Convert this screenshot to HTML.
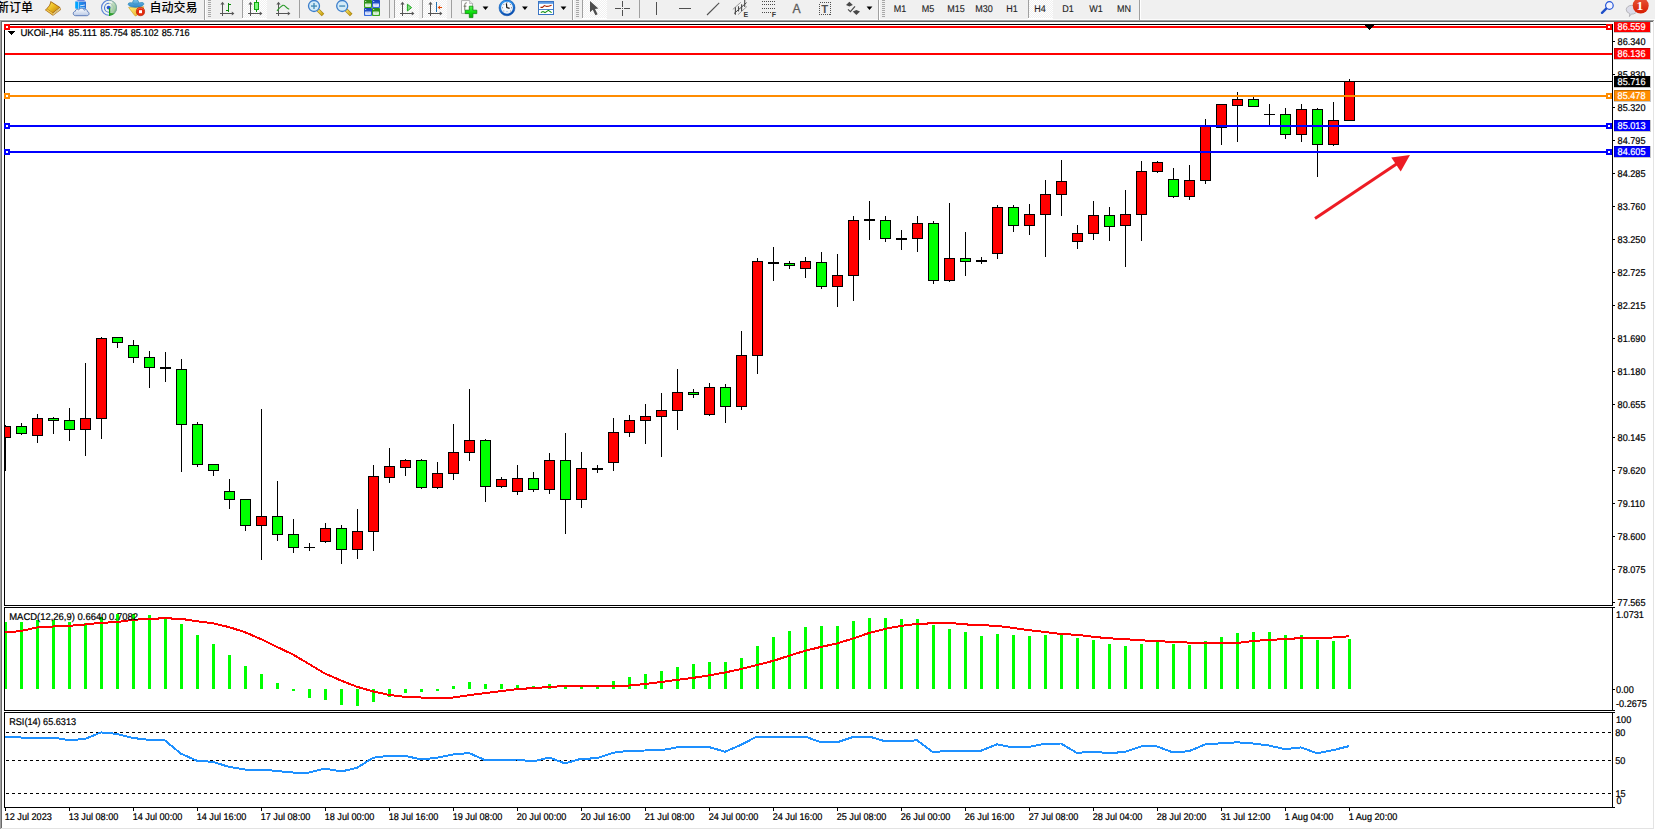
<!DOCTYPE html>
<html lang="zh-CN"><head><meta charset="utf-8"><title>UKOil H4</title>
<style>
html,body{margin:0;padding:0;}
body{width:1655px;height:830px;overflow:hidden;background:#fff;position:relative;font-family:"Liberation Sans","Noto Sans CJK SC",sans-serif;}
#chart{position:absolute;left:0;top:0;}
#frameT{position:absolute;left:0;top:20px;width:1654px;height:1px;background:#a0a0a0;}
#frameT2{position:absolute;left:1px;top:21px;width:1652px;height:1px;background:#696969;}
#frameL{position:absolute;left:0;top:20px;width:1px;height:809px;background:#a0a0a0;}
#frameL2{position:absolute;left:1px;top:21px;width:1px;height:807px;background:#696969;}
#frameR{position:absolute;left:1653px;top:21px;width:1px;height:808px;background:#e3e3e3;}
#frameB{position:absolute;left:1px;top:828px;width:1653px;height:1px;background:#e3e3e3;}
#tb{position:absolute;left:0;top:0;width:1655px;height:20px;overflow:hidden;}
#tbs{display:block;}

</style></head><body>
<svg id="chart" width="1655" height="830" viewBox="0 0 1655 830" shape-rendering="crispEdges">
<defs><clipPath id="cm"><rect x="5" y="25" width="1607" height="580"/></clipPath><clipPath id="c2"><rect x="5" y="608" width="1607" height="102"/></clipPath><clipPath id="c3"><rect x="5" y="713" width="1607" height="94"/></clipPath></defs>
<g fill="#000">
<rect x="4" y="24" width="1" height="784"/>
<rect x="4" y="24" width="1609" height="1"/>
<rect x="1612" y="24" width="1" height="784"/>
<rect x="4" y="605" width="1609" height="1"/>
<rect x="4" y="607" width="1609" height="1"/>
<rect x="4" y="710" width="1609" height="1"/>
<rect x="4" y="712" width="1609" height="1"/>
<rect x="4" y="807" width="1609" height="1"/>
</g>
<rect x="4" y="606" width="1609" height="1" fill="#fff"/><rect x="4" y="711" width="1609" height="1" fill="#fff"/>
<g clip-path="url(#cm)">
<rect x="5" y="425" width="1" height="46" fill="#000"/>
<rect x="0" y="426" width="11" height="12" fill="#000"/>
<rect x="1" y="427" width="9" height="10" fill="#f00"/>
<rect x="21" y="423" width="1" height="12" fill="#000"/>
<rect x="16" y="426" width="11" height="8" fill="#000"/>
<rect x="17" y="427" width="9" height="6" fill="#0f0"/>
<rect x="37" y="414" width="1" height="29" fill="#000"/>
<rect x="32" y="418" width="11" height="18" fill="#000"/>
<rect x="33" y="419" width="9" height="16" fill="#f00"/>
<rect x="53" y="417" width="1" height="17" fill="#000"/>
<rect x="48" y="418" width="11" height="3" fill="#000"/>
<rect x="49" y="419" width="9" height="1" fill="#0f0"/>
<rect x="69" y="408" width="1" height="33" fill="#000"/>
<rect x="64" y="420" width="11" height="10" fill="#000"/>
<rect x="65" y="421" width="9" height="8" fill="#0f0"/>
<rect x="85" y="363" width="1" height="93" fill="#000"/>
<rect x="80" y="418" width="11" height="12" fill="#000"/>
<rect x="81" y="419" width="9" height="10" fill="#f00"/>
<rect x="101" y="337" width="1" height="102" fill="#000"/>
<rect x="96" y="338" width="11" height="81" fill="#000"/>
<rect x="97" y="339" width="9" height="79" fill="#f00"/>
<rect x="117" y="337" width="1" height="11" fill="#000"/>
<rect x="112" y="337" width="11" height="6" fill="#000"/>
<rect x="113" y="338" width="9" height="4" fill="#0f0"/>
<rect x="133" y="340" width="1" height="23" fill="#000"/>
<rect x="128" y="345" width="11" height="13" fill="#000"/>
<rect x="129" y="346" width="9" height="11" fill="#0f0"/>
<rect x="149" y="351" width="1" height="37" fill="#000"/>
<rect x="144" y="357" width="11" height="11" fill="#000"/>
<rect x="145" y="358" width="9" height="9" fill="#0f0"/>
<rect x="165" y="352" width="1" height="30" fill="#000"/>
<rect x="160" y="367" width="11" height="2" fill="#000"/>
<rect x="181" y="359" width="1" height="113" fill="#000"/>
<rect x="176" y="369" width="11" height="56" fill="#000"/>
<rect x="177" y="370" width="9" height="54" fill="#0f0"/>
<rect x="197" y="422" width="1" height="45" fill="#000"/>
<rect x="192" y="424" width="11" height="41" fill="#000"/>
<rect x="193" y="425" width="9" height="39" fill="#0f0"/>
<rect x="213" y="464" width="1" height="12" fill="#000"/>
<rect x="208" y="464" width="11" height="7" fill="#000"/>
<rect x="209" y="465" width="9" height="5" fill="#0f0"/>
<rect x="229" y="479" width="1" height="30" fill="#000"/>
<rect x="224" y="491" width="11" height="9" fill="#000"/>
<rect x="225" y="492" width="9" height="7" fill="#0f0"/>
<rect x="245" y="499" width="1" height="32" fill="#000"/>
<rect x="240" y="499" width="11" height="27" fill="#000"/>
<rect x="241" y="500" width="9" height="25" fill="#0f0"/>
<rect x="261" y="409" width="1" height="151" fill="#000"/>
<rect x="256" y="516" width="11" height="10" fill="#000"/>
<rect x="257" y="517" width="9" height="8" fill="#f00"/>
<rect x="277" y="481" width="1" height="60" fill="#000"/>
<rect x="272" y="516" width="11" height="19" fill="#000"/>
<rect x="273" y="517" width="9" height="17" fill="#0f0"/>
<rect x="293" y="519" width="1" height="34" fill="#000"/>
<rect x="288" y="534" width="11" height="14" fill="#000"/>
<rect x="289" y="535" width="9" height="12" fill="#0f0"/>
<rect x="309" y="543" width="1" height="8" fill="#000"/>
<rect x="304" y="547" width="11" height="1" fill="#000"/>
<rect x="325" y="523" width="1" height="20" fill="#000"/>
<rect x="320" y="528" width="11" height="14" fill="#000"/>
<rect x="321" y="529" width="9" height="12" fill="#f00"/>
<rect x="341" y="525" width="1" height="39" fill="#000"/>
<rect x="336" y="528" width="11" height="22" fill="#000"/>
<rect x="337" y="529" width="9" height="20" fill="#0f0"/>
<rect x="357" y="509" width="1" height="50" fill="#000"/>
<rect x="352" y="531" width="11" height="19" fill="#000"/>
<rect x="353" y="532" width="9" height="17" fill="#f00"/>
<rect x="373" y="465" width="1" height="86" fill="#000"/>
<rect x="368" y="476" width="11" height="56" fill="#000"/>
<rect x="369" y="477" width="9" height="54" fill="#f00"/>
<rect x="389" y="448" width="1" height="35" fill="#000"/>
<rect x="384" y="466" width="11" height="12" fill="#000"/>
<rect x="385" y="467" width="9" height="10" fill="#f00"/>
<rect x="405" y="459" width="1" height="17" fill="#000"/>
<rect x="400" y="460" width="11" height="8" fill="#000"/>
<rect x="401" y="461" width="9" height="6" fill="#f00"/>
<rect x="421" y="459" width="1" height="30" fill="#000"/>
<rect x="416" y="460" width="11" height="28" fill="#000"/>
<rect x="417" y="461" width="9" height="26" fill="#0f0"/>
<rect x="437" y="462" width="1" height="27" fill="#000"/>
<rect x="432" y="473" width="11" height="15" fill="#000"/>
<rect x="433" y="474" width="9" height="13" fill="#f00"/>
<rect x="453" y="424" width="1" height="56" fill="#000"/>
<rect x="448" y="452" width="11" height="22" fill="#000"/>
<rect x="449" y="453" width="9" height="20" fill="#f00"/>
<rect x="469" y="389" width="1" height="72" fill="#000"/>
<rect x="464" y="440" width="11" height="13" fill="#000"/>
<rect x="465" y="441" width="9" height="11" fill="#f00"/>
<rect x="485" y="439" width="1" height="63" fill="#000"/>
<rect x="480" y="440" width="11" height="47" fill="#000"/>
<rect x="481" y="441" width="9" height="45" fill="#0f0"/>
<rect x="501" y="477" width="1" height="11" fill="#000"/>
<rect x="496" y="479" width="11" height="8" fill="#000"/>
<rect x="497" y="480" width="9" height="6" fill="#f00"/>
<rect x="517" y="465" width="1" height="30" fill="#000"/>
<rect x="512" y="478" width="11" height="14" fill="#000"/>
<rect x="513" y="479" width="9" height="12" fill="#f00"/>
<rect x="533" y="472" width="1" height="20" fill="#000"/>
<rect x="528" y="478" width="11" height="12" fill="#000"/>
<rect x="529" y="479" width="9" height="10" fill="#0f0"/>
<rect x="549" y="453" width="1" height="41" fill="#000"/>
<rect x="544" y="460" width="11" height="30" fill="#000"/>
<rect x="545" y="461" width="9" height="28" fill="#f00"/>
<rect x="565" y="433" width="1" height="101" fill="#000"/>
<rect x="560" y="460" width="11" height="40" fill="#000"/>
<rect x="561" y="461" width="9" height="38" fill="#0f0"/>
<rect x="581" y="452" width="1" height="56" fill="#000"/>
<rect x="576" y="468" width="11" height="32" fill="#000"/>
<rect x="577" y="469" width="9" height="30" fill="#f00"/>
<rect x="597" y="465" width="1" height="8" fill="#000"/>
<rect x="592" y="468" width="11" height="2" fill="#000"/>
<rect x="613" y="418" width="1" height="53" fill="#000"/>
<rect x="608" y="432" width="11" height="31" fill="#000"/>
<rect x="609" y="433" width="9" height="29" fill="#f00"/>
<rect x="629" y="415" width="1" height="22" fill="#000"/>
<rect x="624" y="420" width="11" height="13" fill="#000"/>
<rect x="625" y="421" width="9" height="11" fill="#f00"/>
<rect x="645" y="404" width="1" height="40" fill="#000"/>
<rect x="640" y="416" width="11" height="5" fill="#000"/>
<rect x="641" y="417" width="9" height="3" fill="#f00"/>
<rect x="661" y="393" width="1" height="64" fill="#000"/>
<rect x="656" y="410" width="11" height="7" fill="#000"/>
<rect x="657" y="411" width="9" height="5" fill="#f00"/>
<rect x="677" y="369" width="1" height="61" fill="#000"/>
<rect x="672" y="392" width="11" height="19" fill="#000"/>
<rect x="673" y="393" width="9" height="17" fill="#f00"/>
<rect x="693" y="389" width="1" height="9" fill="#000"/>
<rect x="688" y="392" width="11" height="3" fill="#000"/>
<rect x="689" y="393" width="9" height="1" fill="#0f0"/>
<rect x="709" y="383" width="1" height="33" fill="#000"/>
<rect x="704" y="387" width="11" height="28" fill="#000"/>
<rect x="705" y="388" width="9" height="26" fill="#f00"/>
<rect x="725" y="384" width="1" height="39" fill="#000"/>
<rect x="720" y="387" width="11" height="20" fill="#000"/>
<rect x="721" y="388" width="9" height="18" fill="#0f0"/>
<rect x="741" y="331" width="1" height="79" fill="#000"/>
<rect x="736" y="355" width="11" height="52" fill="#000"/>
<rect x="737" y="356" width="9" height="50" fill="#f00"/>
<rect x="757" y="258" width="1" height="116" fill="#000"/>
<rect x="752" y="261" width="11" height="95" fill="#000"/>
<rect x="753" y="262" width="9" height="93" fill="#f00"/>
<rect x="773" y="247" width="1" height="34" fill="#000"/>
<rect x="768" y="262" width="11" height="2" fill="#000"/>
<rect x="789" y="261" width="1" height="8" fill="#000"/>
<rect x="784" y="263" width="11" height="3" fill="#000"/>
<rect x="785" y="264" width="9" height="1" fill="#0f0"/>
<rect x="805" y="257" width="1" height="21" fill="#000"/>
<rect x="800" y="261" width="11" height="8" fill="#000"/>
<rect x="801" y="262" width="9" height="6" fill="#f00"/>
<rect x="821" y="252" width="1" height="37" fill="#000"/>
<rect x="816" y="262" width="11" height="25" fill="#000"/>
<rect x="817" y="263" width="9" height="23" fill="#0f0"/>
<rect x="837" y="254" width="1" height="53" fill="#000"/>
<rect x="832" y="275" width="11" height="12" fill="#000"/>
<rect x="833" y="276" width="9" height="10" fill="#f00"/>
<rect x="853" y="216" width="1" height="85" fill="#000"/>
<rect x="848" y="220" width="11" height="56" fill="#000"/>
<rect x="849" y="221" width="9" height="54" fill="#f00"/>
<rect x="869" y="201" width="1" height="39" fill="#000"/>
<rect x="864" y="219" width="11" height="2" fill="#000"/>
<rect x="885" y="216" width="1" height="26" fill="#000"/>
<rect x="880" y="220" width="11" height="19" fill="#000"/>
<rect x="881" y="221" width="9" height="17" fill="#0f0"/>
<rect x="901" y="230" width="1" height="20" fill="#000"/>
<rect x="896" y="238" width="11" height="2" fill="#000"/>
<rect x="917" y="216" width="1" height="36" fill="#000"/>
<rect x="912" y="223" width="11" height="16" fill="#000"/>
<rect x="913" y="224" width="9" height="14" fill="#f00"/>
<rect x="933" y="221" width="1" height="63" fill="#000"/>
<rect x="928" y="223" width="11" height="58" fill="#000"/>
<rect x="929" y="224" width="9" height="56" fill="#0f0"/>
<rect x="949" y="203" width="1" height="79" fill="#000"/>
<rect x="944" y="258" width="11" height="23" fill="#000"/>
<rect x="945" y="259" width="9" height="21" fill="#f00"/>
<rect x="965" y="232" width="1" height="44" fill="#000"/>
<rect x="960" y="258" width="11" height="4" fill="#000"/>
<rect x="961" y="259" width="9" height="2" fill="#0f0"/>
<rect x="981" y="257" width="1" height="7" fill="#000"/>
<rect x="976" y="260" width="11" height="2" fill="#000"/>
<rect x="997" y="205" width="1" height="54" fill="#000"/>
<rect x="992" y="207" width="11" height="47" fill="#000"/>
<rect x="993" y="208" width="9" height="45" fill="#f00"/>
<rect x="1013" y="205" width="1" height="27" fill="#000"/>
<rect x="1008" y="207" width="11" height="19" fill="#000"/>
<rect x="1009" y="208" width="9" height="17" fill="#0f0"/>
<rect x="1029" y="204" width="1" height="31" fill="#000"/>
<rect x="1024" y="214" width="11" height="12" fill="#000"/>
<rect x="1025" y="215" width="9" height="10" fill="#f00"/>
<rect x="1045" y="180" width="1" height="77" fill="#000"/>
<rect x="1040" y="194" width="11" height="21" fill="#000"/>
<rect x="1041" y="195" width="9" height="19" fill="#f00"/>
<rect x="1061" y="160" width="1" height="56" fill="#000"/>
<rect x="1056" y="181" width="11" height="14" fill="#000"/>
<rect x="1057" y="182" width="9" height="12" fill="#f00"/>
<rect x="1077" y="225" width="1" height="24" fill="#000"/>
<rect x="1072" y="233" width="11" height="9" fill="#000"/>
<rect x="1073" y="234" width="9" height="7" fill="#f00"/>
<rect x="1093" y="201" width="1" height="39" fill="#000"/>
<rect x="1088" y="215" width="11" height="19" fill="#000"/>
<rect x="1089" y="216" width="9" height="17" fill="#f00"/>
<rect x="1109" y="207" width="1" height="34" fill="#000"/>
<rect x="1104" y="215" width="11" height="12" fill="#000"/>
<rect x="1105" y="216" width="9" height="10" fill="#0f0"/>
<rect x="1125" y="190" width="1" height="77" fill="#000"/>
<rect x="1120" y="214" width="11" height="12" fill="#000"/>
<rect x="1121" y="215" width="9" height="10" fill="#f00"/>
<rect x="1141" y="161" width="1" height="80" fill="#000"/>
<rect x="1136" y="171" width="11" height="44" fill="#000"/>
<rect x="1137" y="172" width="9" height="42" fill="#f00"/>
<rect x="1157" y="161" width="1" height="12" fill="#000"/>
<rect x="1152" y="162" width="11" height="10" fill="#000"/>
<rect x="1153" y="163" width="9" height="8" fill="#f00"/>
<rect x="1173" y="168" width="1" height="30" fill="#000"/>
<rect x="1168" y="179" width="11" height="18" fill="#000"/>
<rect x="1169" y="180" width="9" height="16" fill="#0f0"/>
<rect x="1189" y="165" width="1" height="35" fill="#000"/>
<rect x="1184" y="180" width="11" height="17" fill="#000"/>
<rect x="1185" y="181" width="9" height="15" fill="#f00"/>
<rect x="1205" y="119" width="1" height="65" fill="#000"/>
<rect x="1200" y="126" width="11" height="55" fill="#000"/>
<rect x="1201" y="127" width="9" height="53" fill="#f00"/>
<rect x="1221" y="104" width="1" height="41" fill="#000"/>
<rect x="1216" y="104" width="11" height="24" fill="#000"/>
<rect x="1217" y="105" width="9" height="22" fill="#f00"/>
<rect x="1237" y="92" width="1" height="50" fill="#000"/>
<rect x="1232" y="99" width="11" height="7" fill="#000"/>
<rect x="1233" y="100" width="9" height="5" fill="#f00"/>
<rect x="1253" y="97" width="1" height="10" fill="#000"/>
<rect x="1248" y="99" width="11" height="8" fill="#000"/>
<rect x="1249" y="100" width="9" height="6" fill="#0f0"/>
<rect x="1269" y="104" width="1" height="22" fill="#000"/>
<rect x="1264" y="114" width="11" height="1" fill="#000"/>
<rect x="1285" y="108" width="1" height="31" fill="#000"/>
<rect x="1280" y="114" width="11" height="21" fill="#000"/>
<rect x="1281" y="115" width="9" height="19" fill="#0f0"/>
<rect x="1301" y="104" width="1" height="38" fill="#000"/>
<rect x="1296" y="109" width="11" height="26" fill="#000"/>
<rect x="1297" y="110" width="9" height="24" fill="#f00"/>
<rect x="1317" y="108" width="1" height="69" fill="#000"/>
<rect x="1312" y="109" width="11" height="36" fill="#000"/>
<rect x="1313" y="110" width="9" height="34" fill="#0f0"/>
<rect x="1333" y="102" width="1" height="44" fill="#000"/>
<rect x="1328" y="120" width="11" height="25" fill="#000"/>
<rect x="1329" y="121" width="9" height="23" fill="#f00"/>
<rect x="1349" y="79" width="1" height="42" fill="#000"/>
<rect x="1344" y="81" width="11" height="40" fill="#000"/>
<rect x="1345" y="82" width="9" height="38" fill="#f00"/>
</g>
<rect x="5" y="81" width="1607" height="1" fill="#000"/>
<rect x="5" y="26" width="1607" height="2" fill="#f00"/>
<rect x="4" y="24" width="6" height="6" fill="#f00"/><rect x="6" y="26" width="2" height="2" fill="#fff"/>
<rect x="1606" y="24" width="6" height="6" fill="#f00"/><rect x="1608" y="26" width="2" height="2" fill="#fff"/>
<rect x="5" y="53" width="1607" height="2" fill="#f00"/>
<rect x="5" y="95" width="1607" height="2" fill="#ff8c00"/>
<rect x="4" y="93" width="6" height="6" fill="#ff8c00"/><rect x="6" y="95" width="2" height="2" fill="#fff"/>
<rect x="1606" y="93" width="6" height="6" fill="#ff8c00"/><rect x="1608" y="95" width="2" height="2" fill="#fff"/>
<rect x="5" y="125" width="1607" height="2" fill="#00f"/>
<rect x="4" y="123" width="6" height="6" fill="#00f"/><rect x="6" y="125" width="2" height="2" fill="#fff"/>
<rect x="1606" y="123" width="6" height="6" fill="#00f"/><rect x="1608" y="125" width="2" height="2" fill="#fff"/>
<rect x="5" y="151" width="1607" height="2" fill="#00f"/>
<rect x="4" y="149" width="6" height="6" fill="#00f"/><rect x="6" y="151" width="2" height="2" fill="#fff"/>
<rect x="1606" y="149" width="6" height="6" fill="#00f"/><rect x="1608" y="151" width="2" height="2" fill="#fff"/>
<rect x="1365" y="25" width="9" height="1" fill="#000"/>
<rect x="1366" y="26" width="7" height="1" fill="#000"/>
<rect x="1367" y="27" width="5" height="1" fill="#000"/>
<rect x="1368" y="28" width="3" height="1" fill="#000"/>
<rect x="1369" y="29" width="1" height="1" fill="#000"/>
<rect x="8" y="31" width="7" height="1" fill="#000"/>
<rect x="9" y="32" width="5" height="1" fill="#000"/>
<rect x="10" y="33" width="3" height="1" fill="#000"/>
<rect x="11" y="34" width="1" height="1" fill="#000"/>
<g shape-rendering="auto"><line x1="1315" y1="218.5" x2="1398" y2="163" stroke="#ed1c24" stroke-width="3"/><polygon points="1410,155 1391.3,157.6 1400.7,171.5" fill="#ed1c24"/></g>
<g clip-path="url(#c2)">
<rect x="4" y="622" width="3" height="67" fill="#0f0"/>
<rect x="20" y="622" width="3" height="67" fill="#0f0"/>
<rect x="36" y="620" width="3" height="69" fill="#0f0"/>
<rect x="52" y="620" width="3" height="69" fill="#0f0"/>
<rect x="68" y="622" width="3" height="67" fill="#0f0"/>
<rect x="84" y="623" width="3" height="66" fill="#0f0"/>
<rect x="100" y="617" width="3" height="72" fill="#0f0"/>
<rect x="116" y="614" width="3" height="75" fill="#0f0"/>
<rect x="132" y="614" width="3" height="75" fill="#0f0"/>
<rect x="148" y="615" width="3" height="74" fill="#0f0"/>
<rect x="164" y="618" width="3" height="71" fill="#0f0"/>
<rect x="180" y="624" width="3" height="65" fill="#0f0"/>
<rect x="196" y="635" width="3" height="54" fill="#0f0"/>
<rect x="212" y="644" width="3" height="45" fill="#0f0"/>
<rect x="228" y="655" width="3" height="34" fill="#0f0"/>
<rect x="244" y="666" width="3" height="23" fill="#0f0"/>
<rect x="260" y="674" width="3" height="15" fill="#0f0"/>
<rect x="276" y="683" width="3" height="6" fill="#0f0"/>
<rect x="292" y="689" width="3" height="2" fill="#0f0"/>
<rect x="308" y="689" width="3" height="9" fill="#0f0"/>
<rect x="324" y="689" width="3" height="11" fill="#0f0"/>
<rect x="340" y="689" width="3" height="16" fill="#0f0"/>
<rect x="356" y="689" width="3" height="17" fill="#0f0"/>
<rect x="372" y="689" width="3" height="13" fill="#0f0"/>
<rect x="388" y="689" width="3" height="8" fill="#0f0"/>
<rect x="404" y="689" width="3" height="4" fill="#0f0"/>
<rect x="420" y="689" width="3" height="3" fill="#0f0"/>
<rect x="436" y="689" width="3" height="2" fill="#0f0"/>
<rect x="452" y="686" width="3" height="3" fill="#0f0"/>
<rect x="468" y="682" width="3" height="7" fill="#0f0"/>
<rect x="484" y="684" width="3" height="5" fill="#0f0"/>
<rect x="500" y="684" width="3" height="5" fill="#0f0"/>
<rect x="516" y="685" width="3" height="4" fill="#0f0"/>
<rect x="532" y="686" width="3" height="3" fill="#0f0"/>
<rect x="548" y="684" width="3" height="5" fill="#0f0"/>
<rect x="564" y="686" width="3" height="3" fill="#0f0"/>
<rect x="580" y="686" width="3" height="3" fill="#0f0"/>
<rect x="596" y="686" width="3" height="3" fill="#0f0"/>
<rect x="612" y="681" width="3" height="8" fill="#0f0"/>
<rect x="628" y="677" width="3" height="12" fill="#0f0"/>
<rect x="644" y="674" width="3" height="15" fill="#0f0"/>
<rect x="660" y="671" width="3" height="18" fill="#0f0"/>
<rect x="676" y="667" width="3" height="22" fill="#0f0"/>
<rect x="692" y="664" width="3" height="25" fill="#0f0"/>
<rect x="708" y="662" width="3" height="27" fill="#0f0"/>
<rect x="724" y="662" width="3" height="27" fill="#0f0"/>
<rect x="740" y="658" width="3" height="31" fill="#0f0"/>
<rect x="756" y="646" width="3" height="43" fill="#0f0"/>
<rect x="772" y="637" width="3" height="52" fill="#0f0"/>
<rect x="788" y="631" width="3" height="58" fill="#0f0"/>
<rect x="804" y="627" width="3" height="62" fill="#0f0"/>
<rect x="820" y="626" width="3" height="63" fill="#0f0"/>
<rect x="836" y="626" width="3" height="63" fill="#0f0"/>
<rect x="852" y="621" width="3" height="68" fill="#0f0"/>
<rect x="868" y="618" width="3" height="71" fill="#0f0"/>
<rect x="884" y="618" width="3" height="71" fill="#0f0"/>
<rect x="900" y="619" width="3" height="70" fill="#0f0"/>
<rect x="916" y="619" width="3" height="70" fill="#0f0"/>
<rect x="932" y="625" width="3" height="64" fill="#0f0"/>
<rect x="948" y="629" width="3" height="60" fill="#0f0"/>
<rect x="964" y="632" width="3" height="57" fill="#0f0"/>
<rect x="980" y="636" width="3" height="53" fill="#0f0"/>
<rect x="996" y="634" width="3" height="55" fill="#0f0"/>
<rect x="1012" y="635" width="3" height="54" fill="#0f0"/>
<rect x="1028" y="636" width="3" height="53" fill="#0f0"/>
<rect x="1044" y="635" width="3" height="54" fill="#0f0"/>
<rect x="1060" y="634" width="3" height="55" fill="#0f0"/>
<rect x="1076" y="638" width="3" height="51" fill="#0f0"/>
<rect x="1092" y="640" width="3" height="49" fill="#0f0"/>
<rect x="1108" y="644" width="3" height="45" fill="#0f0"/>
<rect x="1124" y="646" width="3" height="43" fill="#0f0"/>
<rect x="1140" y="644" width="3" height="45" fill="#0f0"/>
<rect x="1156" y="642" width="3" height="47" fill="#0f0"/>
<rect x="1172" y="644" width="3" height="45" fill="#0f0"/>
<rect x="1188" y="645" width="3" height="44" fill="#0f0"/>
<rect x="1204" y="641" width="3" height="48" fill="#0f0"/>
<rect x="1220" y="637" width="3" height="52" fill="#0f0"/>
<rect x="1236" y="633" width="3" height="56" fill="#0f0"/>
<rect x="1252" y="632" width="3" height="57" fill="#0f0"/>
<rect x="1268" y="632" width="3" height="57" fill="#0f0"/>
<rect x="1284" y="635" width="3" height="54" fill="#0f0"/>
<rect x="1300" y="635" width="3" height="54" fill="#0f0"/>
<rect x="1316" y="640" width="3" height="49" fill="#0f0"/>
<rect x="1332" y="641" width="3" height="48" fill="#0f0"/>
<rect x="1348" y="639" width="3" height="50" fill="#0f0"/>
<polyline points="5,632.5 21,631.0 37,627.5 53,626.5 69,625.9 85,624.5 101,622.8 117,622.1 133,619.8 149,618.8 165,618.3 181,618.8 197,621.3 213,623.3 229,627.1 245,632.2 261,639.1 277,646.9 293,654.5 309,664.0 325,673.6 341,680.5 357,686.8 373,691.4 389,694.9 405,696.9 421,697.5 437,697.5 453,697.5 469,695.2 485,693.1 501,691.1 517,689.1 533,688.1 549,687.0 565,686.0 581,685.5 597,685.5 613,685.5 629,685.5 645,684.0 661,682.0 677,679.9 693,677.9 709,675.4 725,672.5 741,669.0 757,665.0 773,660.9 789,655.8 805,650.8 821,646.9 837,643.5 853,638.5 869,633.0 885,628.9 901,625.9 917,623.9 933,623.3 949,622.8 965,624.4 981,625.1 997,625.9 1013,627.9 1029,630.2 1045,632.0 1061,634.0 1077,634.8 1093,636.8 1109,638.3 1125,639.1 1141,640.3 1157,641.1 1173,641.9 1189,642.6 1205,643.4 1221,643.2 1237,643.0 1253,641.0 1269,639.9 1285,639.1 1301,638.1 1317,637.8 1333,637.5 1349,636.3" fill="none" stroke="#f00" stroke-width="2" shape-rendering="crispEdges"/>
</g>
<g clip-path="url(#c3)">
<line x1="6" y1="732.5" x2="1612" y2="732.5" stroke="#000" stroke-width="1" stroke-dasharray="3,3"/>
<line x1="6" y1="760.5" x2="1612" y2="760.5" stroke="#000" stroke-width="1" stroke-dasharray="3,3"/>
<line x1="6" y1="793.5" x2="1612" y2="793.5" stroke="#000" stroke-width="1" stroke-dasharray="3,3"/>
<polyline points="5,736.5 21,737.5 37,737.5 53,737.5 69,740.1 85,739.0 101,732.4 117,733.9 133,738.0 149,739.8 165,740.5 181,753.7 197,760.8 213,761.8 229,766.9 245,769.5 261,769.5 277,771.0 293,772.5 309,772.5 325,768.5 341,771.5 357,767.9 373,757.8 389,755.8 405,755.8 421,759.5 437,757.8 453,754.5 469,753.0 485,760.1 501,759.8 517,759.5 533,761.5 549,757.5 565,763.4 581,758.8 597,758.3 613,752.7 629,750.7 645,750.5 661,750.2 677,747.4 693,747.1 709,747.1 725,751.7 741,744.8 757,736.5 773,736.5 789,736.5 805,736.5 821,742.3 837,742.3 853,737.0 869,736.5 885,741.3 901,741.3 917,740.3 933,752.2 949,750.7 965,750.7 981,750.7 997,744.3 1013,747.4 1029,746.9 1045,743.8 1061,743.5 1077,753.0 1093,751.5 1109,753.2 1125,751.9 1141,746.4 1157,746.4 1173,752.5 1189,751.2 1205,744.5 1221,743.3 1237,742.3 1253,743.5 1269,745.5 1285,749.2 1301,747.4 1317,753.2 1333,750.2 1349,746.1" fill="none" stroke="#1e90ff" stroke-width="2" stroke-linejoin="round" shape-rendering="crispEdges"/>
</g>
<g fill="#000">
<rect x="1613" y="41" width="2" height="1"/>
<rect x="1613" y="74" width="2" height="1"/>
<rect x="1613" y="107" width="2" height="1"/>
<rect x="1613" y="140" width="2" height="1"/>
<rect x="1613" y="173" width="2" height="1"/>
<rect x="1613" y="206" width="2" height="1"/>
<rect x="1613" y="239" width="2" height="1"/>
<rect x="1613" y="272" width="2" height="1"/>
<rect x="1613" y="305" width="2" height="1"/>
<rect x="1613" y="338" width="2" height="1"/>
<rect x="1613" y="371" width="2" height="1"/>
<rect x="1613" y="404" width="2" height="1"/>
<rect x="1613" y="437" width="2" height="1"/>
<rect x="1613" y="470" width="2" height="1"/>
<rect x="1613" y="503" width="2" height="1"/>
<rect x="1613" y="536" width="2" height="1"/>
<rect x="1613" y="569" width="2" height="1"/>
<rect x="1613" y="602" width="2" height="1"/>
<rect x="1613" y="607" width="2" height="1"/>
<rect x="1613" y="689" width="2" height="1"/>
<rect x="1613" y="710" width="2" height="1"/>
<rect x="1613" y="712" width="2" height="1"/>
<rect x="1613" y="807" width="2" height="1"/>
<rect x="5" y="808" width="1" height="3"/>
<rect x="69" y="808" width="1" height="3"/>
<rect x="133" y="808" width="1" height="3"/>
<rect x="197" y="808" width="1" height="3"/>
<rect x="261" y="808" width="1" height="3"/>
<rect x="325" y="808" width="1" height="3"/>
<rect x="389" y="808" width="1" height="3"/>
<rect x="453" y="808" width="1" height="3"/>
<rect x="517" y="808" width="1" height="3"/>
<rect x="581" y="808" width="1" height="3"/>
<rect x="645" y="808" width="1" height="3"/>
<rect x="709" y="808" width="1" height="3"/>
<rect x="773" y="808" width="1" height="3"/>
<rect x="837" y="808" width="1" height="3"/>
<rect x="901" y="808" width="1" height="3"/>
<rect x="965" y="808" width="1" height="3"/>
<rect x="1029" y="808" width="1" height="3"/>
<rect x="1093" y="808" width="1" height="3"/>
<rect x="1157" y="808" width="1" height="3"/>
<rect x="1221" y="808" width="1" height="3"/>
<rect x="1285" y="808" width="1" height="3"/>
<rect x="1349" y="808" width="1" height="3"/>
</g>
<g font-family="'Liberation Sans', sans-serif" font-size="9.8" fill="#000" stroke="#000" stroke-width="0.22" shape-rendering="auto" text-rendering="geometricPrecision">
<text transform="translate(1617.6,45) scale(0.93,1)">86.340</text>
<text transform="translate(1617.6,78) scale(0.93,1)">85.830</text>
<text transform="translate(1617.6,111) scale(0.93,1)">85.320</text>
<text transform="translate(1617.6,144) scale(0.93,1)">84.795</text>
<text transform="translate(1617.6,177) scale(0.93,1)">84.285</text>
<text transform="translate(1617.6,210) scale(0.93,1)">83.760</text>
<text transform="translate(1617.6,243) scale(0.93,1)">83.250</text>
<text transform="translate(1617.6,276) scale(0.93,1)">82.725</text>
<text transform="translate(1617.6,309) scale(0.93,1)">82.215</text>
<text transform="translate(1617.6,342) scale(0.93,1)">81.690</text>
<text transform="translate(1617.6,375) scale(0.93,1)">81.180</text>
<text transform="translate(1617.6,408) scale(0.93,1)">80.655</text>
<text transform="translate(1617.6,441) scale(0.93,1)">80.145</text>
<text transform="translate(1617.6,474) scale(0.93,1)">79.620</text>
<text transform="translate(1617.6,507) scale(0.93,1)">79.110</text>
<text transform="translate(1617.6,540) scale(0.93,1)">78.600</text>
<text transform="translate(1617.6,573) scale(0.93,1)">78.075</text>
<text transform="translate(1617.6,606) scale(0.93,1)">77.565</text>
<text transform="translate(4.7,820) scale(0.93,1)">12 Jul 2023</text>
<text transform="translate(68.7,820) scale(0.93,1)">13 Jul 08:00</text>
<text transform="translate(132.7,820) scale(0.93,1)">14 Jul 00:00</text>
<text transform="translate(196.7,820) scale(0.93,1)">14 Jul 16:00</text>
<text transform="translate(260.7,820) scale(0.93,1)">17 Jul 08:00</text>
<text transform="translate(324.7,820) scale(0.93,1)">18 Jul 00:00</text>
<text transform="translate(388.7,820) scale(0.93,1)">18 Jul 16:00</text>
<text transform="translate(452.7,820) scale(0.93,1)">19 Jul 08:00</text>
<text transform="translate(516.7,820) scale(0.93,1)">20 Jul 00:00</text>
<text transform="translate(580.7,820) scale(0.93,1)">20 Jul 16:00</text>
<text transform="translate(644.7,820) scale(0.93,1)">21 Jul 08:00</text>
<text transform="translate(708.7,820) scale(0.93,1)">24 Jul 00:00</text>
<text transform="translate(772.7,820) scale(0.93,1)">24 Jul 16:00</text>
<text transform="translate(836.7,820) scale(0.93,1)">25 Jul 08:00</text>
<text transform="translate(900.7,820) scale(0.93,1)">26 Jul 00:00</text>
<text transform="translate(964.7,820) scale(0.93,1)">26 Jul 16:00</text>
<text transform="translate(1028.7,820) scale(0.93,1)">27 Jul 08:00</text>
<text transform="translate(1092.7,820) scale(0.93,1)">28 Jul 04:00</text>
<text transform="translate(1156.7,820) scale(0.93,1)">28 Jul 20:00</text>
<text transform="translate(1220.7,820) scale(0.93,1)">31 Jul 12:00</text>
<text transform="translate(1284.7,820) scale(0.93,1)">1 Aug 04:00</text>
<text transform="translate(1348.7,820) scale(0.93,1)">1 Aug 20:00</text>
<text transform="translate(20.4,36) scale(0.98,1)">UKOil-,H4</text>
<text transform="translate(68.6,36) scale(0.995,1)">85.111</text>
<text transform="translate(100,36) scale(0.93,1)">85.754</text>
<text transform="translate(130.7,36) scale(0.93,1)">85.102</text>
<text transform="translate(161.7,36) scale(0.93,1)">85.716</text>
<text transform="translate(9.2,620) scale(0.965,1)">MACD(12,26,9) 0.6640 0.7082</text>
<text transform="translate(9.2,725) scale(0.93,1)">RSI(14) 65.6313</text>
<text transform="translate(1616,618.4) scale(0.93,1)">1.0731</text>
<text transform="translate(1616,693) scale(0.93,1)">0.00</text>
<text transform="translate(1616,707) scale(0.93,1)">-0.2675</text>
<text transform="translate(1616,723) scale(0.93,1)">100</text>
<text transform="translate(1615.2,736) scale(0.93,1)">80</text>
<text transform="translate(1615.2,764) scale(0.93,1)">50</text>
<text transform="translate(1615.4,797) scale(0.93,1)">15</text>
<text transform="translate(1616.4,804) scale(0.93,1)">0</text>
<rect x="1614" y="21" width="36" height="11" fill="#f00" shape-rendering="crispEdges"/>
<text transform="translate(1617.6,30) scale(0.93,1)" fill="#fff" stroke="#fff">86.559</text>
<rect x="1614" y="48" width="36" height="11" fill="#f00" shape-rendering="crispEdges"/>
<text transform="translate(1617.6,57) scale(0.93,1)" fill="#fff" stroke="#fff">86.136</text>
<rect x="1614" y="76" width="36" height="11" fill="#000" shape-rendering="crispEdges"/>
<text transform="translate(1617.6,85) scale(0.93,1)" fill="#fff" stroke="#fff">85.716</text>
<rect x="1614" y="90" width="36" height="11" fill="#ff8c00" shape-rendering="crispEdges"/>
<text transform="translate(1617.6,99) scale(0.93,1)" fill="#fff" stroke="#fff">85.478</text>
<rect x="1614" y="120" width="36" height="11" fill="#00f" shape-rendering="crispEdges"/>
<text transform="translate(1617.6,129) scale(0.93,1)" fill="#fff" stroke="#fff">85.013</text>
<rect x="1614" y="146" width="36" height="11" fill="#00f" shape-rendering="crispEdges"/>
<text transform="translate(1617.6,155) scale(0.93,1)" fill="#fff" stroke="#fff">84.605</text>
</g>
</svg>
<div id="frameT"></div><div id="frameT2"></div><div id="frameL"></div><div id="frameL2"></div><div id="frameR"></div><div id="frameB"></div>
<div id="tb"><svg id="tbs" width="1655" height="20" viewBox="0 0 1655 20">
<defs>
<pattern id="chk" width="2" height="2" patternUnits="userSpaceOnUse"><rect width="2" height="2" fill="#f0f0f0"/><rect width="1" height="1" fill="#fff"/><rect x="1" y="1" width="1" height="1" fill="#fff"/></pattern>
<linearGradient id="gold" x1="0" y1="0" x2="1" y2="1"><stop offset="0" stop-color="#ffe95a"/><stop offset="0.5" stop-color="#e9b820"/><stop offset="1" stop-color="#b97a10"/></linearGradient>
<linearGradient id="bluebox" x1="0" y1="0" x2="1" y2="0"><stop offset="0" stop-color="#1c9cf5"/><stop offset="1" stop-color="#2b6fd8"/></linearGradient>
<linearGradient id="cloud" x1="0" y1="0" x2="0" y2="1"><stop offset="0" stop-color="#ffffff"/><stop offset="1" stop-color="#b9c9e6"/></linearGradient>
<linearGradient id="hat" x1="0" y1="0" x2="0" y2="1"><stop offset="0" stop-color="#7cc4ea"/><stop offset="1" stop-color="#2f86c8"/></linearGradient>
<linearGradient id="face" x1="0" y1="0" x2="1" y2="1"><stop offset="0" stop-color="#fff27a"/><stop offset="1" stop-color="#e8a820"/></linearGradient>
<linearGradient id="cg" x1="0" y1="0" x2="1" y2="0"><stop offset="0" stop-color="#10b010"/><stop offset="0.5" stop-color="#90ff90"/><stop offset="1" stop-color="#10b010"/></linearGradient>
<linearGradient id="badge" x1="0" y1="0" x2="0" y2="1"><stop offset="0" stop-color="#e9583a"/><stop offset="1" stop-color="#d61c00"/></linearGradient>
<linearGradient id="plusg" x1="0" y1="0" x2="0" y2="1"><stop offset="0" stop-color="#58f858"/><stop offset="0.5" stop-color="#10e010"/><stop offset="1" stop-color="#00b400"/></linearGradient>
<linearGradient id="radg" x1="0" y1="0" x2="1" y2="1"><stop offset="0" stop-color="#e2eee0"/><stop offset="0.6" stop-color="#a4d0a4"/><stop offset="1" stop-color="#3d9a3d"/></linearGradient>
<linearGradient id="ring" x1="0" y1="0" x2="0.3" y2="1"><stop offset="0" stop-color="#3ea6fa"/><stop offset="1" stop-color="#0a52b4"/></linearGradient>
<radialGradient id="clk" cx="0.5" cy="0.4" r="0.6"><stop offset="0" stop-color="#ffffff"/><stop offset="1" stop-color="#e4ecf4"/></radialGradient>
<linearGradient id="handle" x1="0" y1="0" x2="1" y2="1"><stop offset="0" stop-color="#f6e060"/><stop offset="1" stop-color="#c8a010"/></linearGradient>
<linearGradient id="gsq" x1="0" y1="0" x2="0" y2="1"><stop offset="0" stop-color="#2a8a14"/><stop offset="1" stop-color="#3aa820"/></linearGradient>
<linearGradient id="bsq" x1="0" y1="0" x2="0" y2="1"><stop offset="0" stop-color="#1440b8"/><stop offset="1" stop-color="#3a6ee0"/></linearGradient>
</defs>
<rect width="1655" height="19" fill="#f0f0f0"/><rect y="19" width="1655" height="1" fill="#fcfcfc"/>
<rect x="242" y="0" width="25" height="18" fill="url(#chk)" shape-rendering="crispEdges"/><rect x="242" y="0" width="1" height="18" fill="#a0a0a0" shape-rendering="crispEdges"/><rect x="242" y="18" width="25" height="1" fill="#fff" shape-rendering="crispEdges"/>
<rect x="394" y="0" width="25" height="18" fill="url(#chk)" shape-rendering="crispEdges"/><rect x="394" y="0" width="1" height="18" fill="#a0a0a0" shape-rendering="crispEdges"/><rect x="394" y="18" width="25" height="1" fill="#fff" shape-rendering="crispEdges"/>
<rect x="422" y="0" width="25" height="18" fill="url(#chk)" shape-rendering="crispEdges"/><rect x="422" y="0" width="1" height="18" fill="#a0a0a0" shape-rendering="crispEdges"/><rect x="422" y="18" width="25" height="1" fill="#fff" shape-rendering="crispEdges"/>
<rect x="582" y="0" width="25" height="18" fill="url(#chk)" shape-rendering="crispEdges"/><rect x="582" y="0" width="1" height="18" fill="#a0a0a0" shape-rendering="crispEdges"/><rect x="582" y="18" width="25" height="1" fill="#fff" shape-rendering="crispEdges"/>
<rect x="1028" y="0" width="25" height="18" fill="url(#chk)" shape-rendering="crispEdges"/><rect x="1028" y="0" width="1" height="18" fill="#a0a0a0" shape-rendering="crispEdges"/><rect x="1028" y="18" width="25" height="1" fill="#fff" shape-rendering="crispEdges"/>
<rect x="204" y="0" width="1" height="20" fill="#a0a0a0" shape-rendering="crispEdges"/><rect x="205" y="0" width="1" height="20" fill="#fff" shape-rendering="crispEdges"/>
<rect x="208" y="0" width="3" height="1" fill="#a8a8a8" shape-rendering="crispEdges"/>
<rect x="208" y="2" width="3" height="1" fill="#a8a8a8" shape-rendering="crispEdges"/>
<rect x="208" y="4" width="3" height="1" fill="#a8a8a8" shape-rendering="crispEdges"/>
<rect x="208" y="6" width="3" height="1" fill="#a8a8a8" shape-rendering="crispEdges"/>
<rect x="208" y="8" width="3" height="1" fill="#a8a8a8" shape-rendering="crispEdges"/>
<rect x="208" y="10" width="3" height="1" fill="#a8a8a8" shape-rendering="crispEdges"/>
<rect x="208" y="12" width="3" height="1" fill="#a8a8a8" shape-rendering="crispEdges"/>
<rect x="208" y="14" width="3" height="1" fill="#a8a8a8" shape-rendering="crispEdges"/>
<rect x="208" y="16" width="3" height="1" fill="#a8a8a8" shape-rendering="crispEdges"/>
<rect x="299" y="0" width="1" height="18" fill="#a0a0a0" shape-rendering="crispEdges"/>
<rect x="389" y="0" width="1" height="18" fill="#a0a0a0" shape-rendering="crispEdges"/>
<rect x="451" y="0" width="1" height="18" fill="#a0a0a0" shape-rendering="crispEdges"/>
<rect x="572" y="0" width="1" height="20" fill="#a0a0a0" shape-rendering="crispEdges"/><rect x="573" y="0" width="1" height="20" fill="#fff" shape-rendering="crispEdges"/>
<rect x="576" y="0" width="3" height="1" fill="#a8a8a8" shape-rendering="crispEdges"/>
<rect x="576" y="2" width="3" height="1" fill="#a8a8a8" shape-rendering="crispEdges"/>
<rect x="576" y="4" width="3" height="1" fill="#a8a8a8" shape-rendering="crispEdges"/>
<rect x="576" y="6" width="3" height="1" fill="#a8a8a8" shape-rendering="crispEdges"/>
<rect x="576" y="8" width="3" height="1" fill="#a8a8a8" shape-rendering="crispEdges"/>
<rect x="576" y="10" width="3" height="1" fill="#a8a8a8" shape-rendering="crispEdges"/>
<rect x="576" y="12" width="3" height="1" fill="#a8a8a8" shape-rendering="crispEdges"/>
<rect x="576" y="14" width="3" height="1" fill="#a8a8a8" shape-rendering="crispEdges"/>
<rect x="576" y="16" width="3" height="1" fill="#a8a8a8" shape-rendering="crispEdges"/>
<rect x="639" y="0" width="1" height="18" fill="#a0a0a0" shape-rendering="crispEdges"/>
<rect x="878" y="0" width="1" height="20" fill="#a0a0a0" shape-rendering="crispEdges"/><rect x="879" y="0" width="1" height="20" fill="#fff" shape-rendering="crispEdges"/>
<rect x="882" y="0" width="3" height="1" fill="#a8a8a8" shape-rendering="crispEdges"/>
<rect x="882" y="2" width="3" height="1" fill="#a8a8a8" shape-rendering="crispEdges"/>
<rect x="882" y="4" width="3" height="1" fill="#a8a8a8" shape-rendering="crispEdges"/>
<rect x="882" y="6" width="3" height="1" fill="#a8a8a8" shape-rendering="crispEdges"/>
<rect x="882" y="8" width="3" height="1" fill="#a8a8a8" shape-rendering="crispEdges"/>
<rect x="882" y="10" width="3" height="1" fill="#a8a8a8" shape-rendering="crispEdges"/>
<rect x="882" y="12" width="3" height="1" fill="#a8a8a8" shape-rendering="crispEdges"/>
<rect x="882" y="14" width="3" height="1" fill="#a8a8a8" shape-rendering="crispEdges"/>
<rect x="882" y="16" width="3" height="1" fill="#a8a8a8" shape-rendering="crispEdges"/>
<rect x="1139" y="0" width="1" height="20" fill="#a0a0a0" shape-rendering="crispEdges"/><rect x="1140" y="0" width="1" height="20" fill="#fff" shape-rendering="crispEdges"/>
<g font-family="'Liberation Sans','Noto Sans CJK SC',sans-serif" font-size="12" font-weight="500" fill="#000"><text x="-2.9" y="11.8">新订单</text><text x="149.6" y="11.8">自动交易</text></g>
<g><path d="M50.6,1 L60,7 L61,9.7 L53,15.8 L44.9,10 Q48.6,6.4 49.2,5.2 Q50.2,3 50.6,1 z" fill="#a8680e"/><path d="M52.8,13.4 L59.8,7.8 L60.4,9.5 L53.1,15 z" fill="#efe6b0"/><path d="M53,14.2 L60.1,8.7" stroke="#b88a30" stroke-width="0.5"/><path d="M45.8,10 L47,9 L52.7,13 L53,15 z" fill="#f0c850"/><path d="M51,2.2 L59.3,7.4 L52.7,12.6 L47.2,8.8 Q49.6,6.2 50.2,5 Q50.8,3.6 51,2.2 z" fill="url(#gold)"/></g>
<g><polygon points="75.2,1.6 78.2,0 84,0 86,1.6" fill="#6f86e0"/><polygon points="75.2,1.4 78.2,2 78.2,9 75.2,8.4" fill="#00a4ff"/><rect x="78.2" y="1.8" width="7.8" height="7" fill="url(#bluebox)"/><rect x="78" y="1.6" width="0.6" height="7" fill="#bfe6ff"/><polygon points="80,5.4 84.8,4.4 84.8,5.4 80,6.2" fill="#eaf6ff"/><rect x="80" y="7.2" width="4.8" height="0.9" fill="#8fd0ff"/><path d="M75.6,15.7 C72.6,15.7 72.4,11.6 75.4,11.2 C75.2,9.4 77.6,8.6 78.6,10 C79.6,7.6 83.6,7.6 84.2,10.2 C85.4,9 87.8,9.8 87.4,11.6 C89.8,12 89.6,15.7 86.8,15.7 z" fill="url(#cloud)" stroke="#5274b4" stroke-width="0.9"/></g>
<g fill="none"><circle cx="109" cy="7.8" r="7.9" fill="#eef3f1"/><path d="M109.4,7.8 L109.4,15.8 A8,8 0 0 0 117,7.8 A8,8 0 0 0 113,0.9 z" fill="url(#radg)"/><path d="M109,0.3 A7.5,7.5 0 0 0 109,15.3" stroke="#5f86d8" stroke-width="1.1"/><path d="M109,3.3 A4.5,4.5 0 0 0 109,12.3" stroke="#4f78d4" stroke-width="1.1"/><path d="M109,0.3 A7.5,7.5 0 0 1 116.5,7.8 A7.5,7.5 0 0 1 109.6,15.3" stroke="#7fa6a8" stroke-width="1"/><path d="M109,3.3 A4.5,4.5 0 0 1 113.5,7.8 A4.5,4.5 0 0 1 110.4,12" stroke="#a8c4b4" stroke-width="1"/><circle cx="108.6" cy="7.6" r="1.9" fill="#2a58cc"/><rect x="109" y="8" width="1.2" height="8" fill="#16a016"/><path d="M110,15.6 A8,8 0 0 0 114.6,13.4 L110,13 z" fill="#2fa02f"/></g>
<g><path d="M128.6,7.4 L143.8,6.8 L142.6,10 L136,16 L134.8,15.6 z" fill="url(#face)" stroke="#d09818" stroke-width="0.6"/><path d="M128.2,4.2 C128.2,2.4 131,2.6 132.6,3 C132.6,0.6 134,-0.6 135.6,-0.6 C137.4,-0.6 138.6,0.6 138.8,3 C140.4,2.4 143.8,2 143.8,3.8 C143.8,6 139.6,7.2 136,7.2 C132.4,7.2 128.2,6.2 128.2,4.2 z" fill="url(#hat)" stroke="#2a86b8" stroke-width="0.7"/><path d="M133,3.4 C134.6,4.4 137.2,4.4 138.6,3.4" stroke="#2f8cc0" stroke-width="0.6" fill="none"/><circle cx="140.5" cy="11.6" r="4.1" fill="#e42a0c" stroke="#b41a00" stroke-width="0.7"/><path d="M137.2,10.2 A3.6,3.6 0 0 1 143.6,9.8" stroke="#f2745c" stroke-width="0.8" fill="none"/><rect x="139" y="10.2" width="3" height="3" fill="#fff"/></g>
<g fill="#555" shape-rendering="crispEdges"><rect x="222" y="3" width="1" height="13"/><rect x="220" y="13" width="13" height="1"/></g><polygon points="222.5,1.8 224.6,4.6 220.4,4.6" fill="#555"/><polygon points="234.4,13.5 231.8,11.4 231.8,15.6" fill="#555"/>
<g fill="#0a8a0a" shape-rendering="crispEdges"><rect x="228" y="3" width="1" height="9"/><rect x="229" y="4" width="2" height="1"/><rect x="226" y="10" width="2" height="1"/></g>
<g fill="#555" shape-rendering="crispEdges"><rect x="250" y="3" width="1" height="13"/><rect x="248" y="13" width="13" height="1"/></g><polygon points="250.5,1.8 252.6,4.6 248.4,4.6" fill="#555"/><polygon points="262.4,13.5 259.8,11.4 259.8,15.6" fill="#555"/>
<g shape-rendering="crispEdges"><rect x="256" y="0" width="1" height="12" fill="#0a9a0a"/><rect x="254" y="2" width="5" height="8" fill="#10a810"/><rect x="255" y="3" width="3" height="6" fill="#7df87d"/></g>
<g fill="#555" shape-rendering="crispEdges"><rect x="278" y="3" width="1" height="13"/><rect x="276" y="13" width="13" height="1"/></g><polygon points="278.5,1.8 280.6,4.6 276.4,4.6" fill="#555"/><polygon points="290.4,13.5 287.8,11.4 287.8,15.6" fill="#555"/>
<path d="M277,10.8 Q280.5,6.4 282.6,5.4 Q284,5 285.6,6.6 Q287.4,8.6 289.2,9.2" fill="none" stroke="#2a9a2a" stroke-width="1.1"/>
<g><path d="M318,10 L323,15" stroke="#a88414" stroke-width="3.6" stroke-linecap="butt"/><path d="M318.2,10.2 L322.6,14.6" stroke="url(#handle)" stroke-width="2.2"/><circle cx="314" cy="6" r="5.5" fill="#d4ebf8" stroke="#3c7ecb" stroke-width="1.3"/><rect x="311" y="5.4" width="6" height="1.3" fill="#3d86b4"/><rect x="313.35" y="3" width="1.3" height="6" fill="#3d86b4"/></g>
<g><path d="M346.2,10 L351.2,15" stroke="#a88414" stroke-width="3.6" stroke-linecap="butt"/><path d="M346.4,10.2 L350.8,14.6" stroke="url(#handle)" stroke-width="2.2"/><circle cx="342.2" cy="6" r="5.5" fill="#d4ebf8" stroke="#3c7ecb" stroke-width="1.3"/><rect x="339.2" y="5.4" width="6" height="1.3" fill="#3d86b4"/></g>
<rect x="364" y="0" width="8" height="8" rx="0.8" fill="url(#gsq)"/><rect x="365.2" y="3.6" width="5.6" height="3.2" fill="#fff"/><rect x="366.2" y="4.4" width="3.6" height="1" fill="#9ad890"/><rect x="365.2" y="1" width="1" height="1" fill="#fff" opacity="0.8"/>
<rect x="372" y="0" width="8" height="8" rx="0.8" fill="url(#bsq)"/><rect x="373.2" y="3.6" width="5.6" height="3.2" fill="#fff"/><rect x="374.2" y="4.4" width="3.6" height="1" fill="#90a8f0"/><rect x="373.2" y="1" width="1" height="1" fill="#fff" opacity="0.8"/>
<rect x="364" y="8" width="8" height="8" rx="0.8" fill="url(#bsq)"/><rect x="365.2" y="11.6" width="5.6" height="3.2" fill="#fff"/><rect x="366.2" y="12.4" width="3.6" height="1" fill="#90a8f0"/><rect x="365.2" y="9" width="1" height="1" fill="#fff" opacity="0.8"/>
<rect x="372" y="8" width="8" height="8" rx="0.8" fill="url(#gsq)"/><rect x="373.2" y="11.6" width="5.6" height="3.2" fill="#fff"/><rect x="374.2" y="12.4" width="3.6" height="1" fill="#9ad890"/><rect x="373.2" y="9" width="1" height="1" fill="#fff" opacity="0.8"/>
<g fill="#555" shape-rendering="crispEdges"><rect x="402" y="3" width="1" height="13"/><rect x="400" y="13" width="13" height="1"/></g><polygon points="402.5,1.8 404.6,4.6 400.4,4.6" fill="#555"/><polygon points="414.4,13.5 411.8,11.4 411.8,15.6" fill="#555"/>
<polygon points="407.4,4.2 411.6,7.6 407.4,11" fill="#7fe07f" stroke="#10a010" stroke-width="0.9"/>
<g fill="#555" shape-rendering="crispEdges"><rect x="430" y="3" width="1" height="13"/><rect x="428" y="13" width="13" height="1"/></g><polygon points="430.5,1.8 432.6,4.6 428.4,4.6" fill="#555"/><polygon points="442.4,13.5 439.8,11.4 439.8,15.6" fill="#555"/>
<rect x="436" y="2" width="1" height="10" fill="#2070b0" shape-rendering="crispEdges"/><path d="M437.6,7.5 L440.4,5.2 L439.8,7 L442,7 L442,8 L439.8,8 L440.4,9.8 z" fill="#e04800"/>
<g><path d="M461.5,0.6 L469.6,0.6 L472.6,3.6 L472.6,13.4 L461.5,13.4 z" fill="#fdfdfd" stroke="#9a9a9a" stroke-width="0.8"/><path d="M469.6,0.6 L469.6,3.6 L472.6,3.6" fill="#e6e6e6" stroke="#9a9a9a" stroke-width="0.6"/><path d="M466.8,2.8 Q464.8,2.6 464.8,4.6 L464.8,10.4 M463.6,6.2 L466.4,6.2" stroke="#6a6a5a" stroke-width="0.9" fill="none"/><path d="M469.3,6.2 L472.9,6.2 L472.9,10.2 L476.8,10.2 L476.8,13.6 L472.9,13.6 L472.9,17.6 L469.3,17.6 L469.3,13.6 L465.2,13.6 L465.2,10.2 L469.3,10.2 z" fill="url(#plusg)" stroke="#0a8a0a" stroke-width="0.8"/></g>
<polygon points="482.6,6.6 488.40000000000003,6.6 485.5,9.9" fill="#000"/>
<g><circle cx="507" cy="7.8" r="7" fill="url(#clk)" stroke="url(#ring)" stroke-width="2.1"/><circle cx="507" cy="7.8" r="8" fill="none" stroke="#0f4fa8" stroke-width="0.5"/><rect x="505.2" y="-0.6" width="3.6" height="1.4" fill="#1b6fd6"/><path d="M506.4,3.4 L506.8,7.6 L509.6,8.4" stroke="#111" stroke-width="1.2" fill="none"/><g fill="#667"><rect x="506.6" y="2" width="0.8" height="1"/><rect x="502" y="7.4" width="1" height="0.8"/><rect x="511" y="7.4" width="1" height="0.8"/><rect x="503.4" y="4" width="0.8" height="0.8"/><rect x="510" y="4" width="0.8" height="0.8"/><rect x="503.4" y="10.6" width="0.8" height="0.8"/><rect x="510" y="10.6" width="0.8" height="0.8"/></g><circle cx="507" cy="11.4" r="0.5" fill="#5aa0ff"/></g>
<polygon points="522,6.6 527.8,6.6 524.9,9.9" fill="#000"/>
<g><rect x="538.5" y="1.5" width="15" height="13" fill="#fff" stroke="#3a74c4" stroke-width="1"/><rect x="539" y="2" width="14" height="1.8" fill="#5a9ae4"/><rect x="539" y="9" width="14" height="0.9" fill="#3a74c4"/><path d="M540.5,7.4 L542.4,7.4 L544.4,5.6 L546.6,6.4 L548.6,6.2 L551.6,5.2" stroke="#a82000" stroke-width="1.1" fill="none"/><path d="M540.8,12.6 L543,11.6 L545,12.6 L548.4,10.4 L551.6,12.6" stroke="#109010" stroke-width="1.1" fill="none"/></g>
<polygon points="560.6,6.6 566.4,6.6 563.5,9.9" fill="#000"/>
<path d="M590,1 L590,12.2 L592.8,9.8 L595.4,15.2 L597.6,14.2 L595,9 L598.4,8.6 z" fill="#4d4d4d"/>
<g fill="#505050" shape-rendering="crispEdges"><rect x="615" y="8" width="6" height="1"/><rect x="624" y="8" width="6" height="1"/><rect x="622" y="1" width="1" height="6"/><rect x="622" y="10" width="1" height="6"/><rect x="622" y="8" width="1" height="1"/></g>
<g fill="#505050" shape-rendering="crispEdges"><rect x="656" y="2" width="1" height="13"/><rect x="679" y="8" width="12" height="1"/></g>
<path d="M707,15 L719.2,2.8" stroke="#505050" stroke-width="1.1"/>
<g stroke="#4a4a4a" fill="none"><path d="M732.8,9.4 L740.8,2.3" stroke-width="0.7" stroke="#777"/><path d="M734,13.6 L746.6,2.6" stroke-width="1"/><path d="M738.1,14.6 L747,6.4" stroke-width="0.7" stroke="#777"/><path d="M735.4,7.2 L735.4,14.8 M738.5,6.3 L738.5,11.6 M741.6,4.2 L741.6,11 M744.7,0 L744.7,7" stroke-width="1.1"/></g>
<g font-family="'Liberation Sans',sans-serif" font-weight="bold" font-size="7" fill="#3a3a3a"><text x="743.6" y="17">E</text><text x="771.8" y="17">F</text></g>
<line x1="762" y1="1.5" x2="775" y2="1.5" stroke="#4a4a4a" stroke-width="1" stroke-dasharray="1,1" shape-rendering="crispEdges"/>
<line x1="762" y1="4.5" x2="775" y2="4.5" stroke="#4a4a4a" stroke-width="1" stroke-dasharray="1,1" shape-rendering="crispEdges"/>
<line x1="762" y1="8.5" x2="775" y2="8.5" stroke="#4a4a4a" stroke-width="1" stroke-dasharray="1,1" shape-rendering="crispEdges"/>
<line x1="762" y1="12.5" x2="771" y2="12.5" stroke="#4a4a4a" stroke-width="1" stroke-dasharray="1,1" shape-rendering="crispEdges"/>
<g font-family="'Liberation Sans',sans-serif" fill="#5a5a5a"><text x="792.4" y="13" font-size="12.2" stroke="#5a5a5a" stroke-width="0.3">A</text><text x="821.2" y="13" font-size="11.4" font-weight="bold" fill="#505050">T</text></g>
<rect x="819.5" y="2.5" width="11" height="12" fill="none" stroke="#505050" stroke-width="1" stroke-dasharray="1,1" shape-rendering="crispEdges"/>
<g fill="#484848"><polygon points="849.4,1.8 852.8,5 849.4,6.6 846,5"/><polygon points="856.4,15 860,11.4 856.4,10 852.8,11.4"/><path d="M848,9.4 L850.4,11.6 L855,6.4" stroke="#484848" stroke-width="1.2" fill="none"/></g>
<polygon points="866.6,6.6 872.4,6.6 869.5,9.9" fill="#000"/>
<g font-family="'Liberation Sans',sans-serif" font-size="9.8" fill="#222" stroke="#222" stroke-width="0.12" text-anchor="middle" text-rendering="geometricPrecision">
<text transform="translate(900,12) scale(0.92,1)">M1</text>
<text transform="translate(928,12) scale(0.92,1)">M5</text>
<text transform="translate(956,12) scale(0.92,1)">M15</text>
<text transform="translate(984,12) scale(0.92,1)">M30</text>
<text transform="translate(1012,12) scale(0.92,1)">H1</text>
<text transform="translate(1040,12) scale(0.92,1)">H4</text>
<text transform="translate(1068,12) scale(0.92,1)">D1</text>
<text transform="translate(1096,12) scale(0.92,1)">W1</text>
<text transform="translate(1124,12) scale(0.92,1)">MN</text>
</g>
<g><circle cx="1609.4" cy="5.5" r="3.8" fill="#f4f4ff" stroke="#2456d8" stroke-width="1.2"/><path d="M1606.2,8.6 L1602,12.8" stroke="#2050c8" stroke-width="2.4" stroke-linecap="round"/></g>
<g><path d="M1626.2,9.8 a5.6,4.4 0 1 1 5,4.3 L1629.4,16.6 L1629.8,13.6 a5.6,4.4 0 0 1 -3.6,-3.8 z" fill="#dcdce8" stroke="#a4a4a8" stroke-width="0.7"/><circle cx="1640.7" cy="5.6" r="8" fill="url(#badge)"/><text x="1639.8" y="10" font-family="'Liberation Serif',serif" font-weight="bold" font-size="13.5" fill="#fff" text-anchor="middle">1</text></g>
</svg></div>
</body></html>
